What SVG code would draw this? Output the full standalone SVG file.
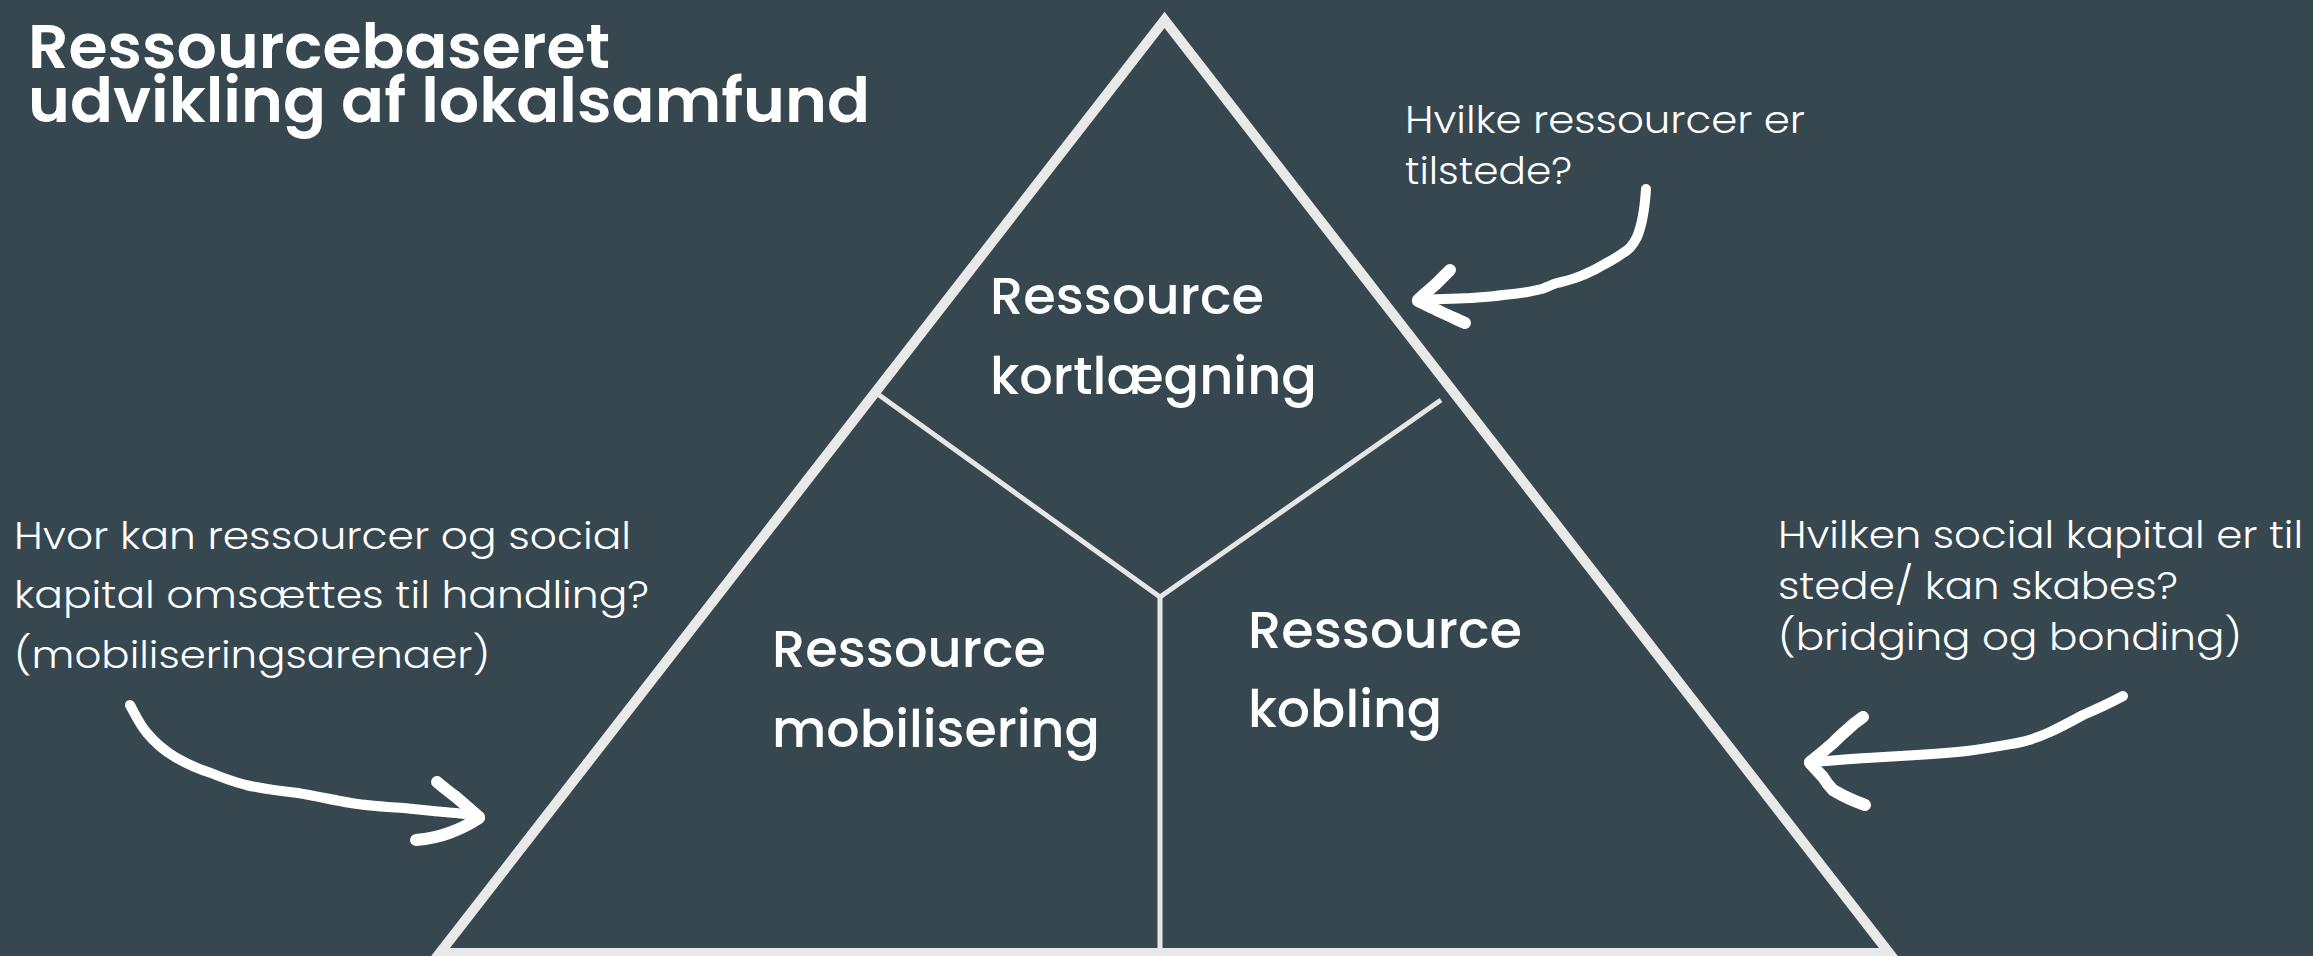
<svg xmlns="http://www.w3.org/2000/svg" width="2313" height="956" viewBox="0 0 2313 956">
  <style>
    .title { font-family: "Poppins", "Inter", "Open Sans", sans-serif; font-weight: 600; font-size: 62px; fill: #ffffff; }
    .label { font-family: "Poppins", "Inter", "Open Sans", sans-serif; font-weight: 500; font-size: 51px; fill: #ffffff; }
    .q { font-family: "Poppins", "Inter", "Open Sans", sans-serif; font-weight: 300; font-size: 38px; fill: #ffffff; }
    .tri { fill: none; stroke: #e9e9e9; stroke-width: 10; stroke-linejoin: miter; }
    .div { fill: none; stroke: #e6e6e6; stroke-width: 5; }
    .arrow { fill: none; stroke: #ffffff; stroke-width: 10; stroke-linecap: round; stroke-linejoin: round; }
    .barb { fill: none; stroke: #ffffff; stroke-width: 12; stroke-linecap: round; stroke-linejoin: round; }
  </style>
  <rect x="0" y="0" width="2313" height="956" fill="#37474f"/>

  <g id="pyramid">
    <polygon class="tri" points="1164.5,20 439.8,953 1889.2,953"/>
    <polyline class="div" points="879,395 1160,597 1441,400"/>
    <line class="div" x1="1160" y1="597" x2="1160" y2="950"/>
  </g>

  <g id="title">
    <text class="title" x="28" y="68" textLength="582" lengthAdjust="spacingAndGlyphs">Ressourcebaseret</text>
    <text class="title" x="28" y="122" textLength="842" lengthAdjust="spacingAndGlyphs">udvikling af lokalsamfund</text>
  </g>

  <g id="node-kortlaegning">
    <text class="label" x="990" y="314" textLength="274" lengthAdjust="spacingAndGlyphs">Ressource</text>
    <text class="label" x="990" y="394" textLength="327" lengthAdjust="spacingAndGlyphs">kortlægning</text>
  </g>

  <g id="node-mobilisering">
    <text class="label" x="772" y="667" textLength="274" lengthAdjust="spacingAndGlyphs">Ressource</text>
    <text class="label" x="772" y="747" textLength="328" lengthAdjust="spacingAndGlyphs">mobilisering</text>
  </g>

  <g id="node-kobling">
    <text class="label" x="1248" y="648" textLength="274" lengthAdjust="spacingAndGlyphs">Ressource</text>
    <text class="label" x="1248" y="727" textLength="194" lengthAdjust="spacingAndGlyphs">kobling</text>
  </g>

  <g id="q-ressourcer">
    <text class="q" x="1405" y="133" textLength="400" lengthAdjust="spacingAndGlyphs">Hvilke ressourcer er</text>
    <text class="q" x="1405" y="184" textLength="167" lengthAdjust="spacingAndGlyphs">tilstede?</text>
  </g>

  <g id="q-handling">
    <text class="q" x="14" y="549" textLength="617" lengthAdjust="spacingAndGlyphs">Hvor kan ressourcer og social</text>
    <text class="q" x="14" y="608" textLength="635" lengthAdjust="spacingAndGlyphs">kapital omsættes til handling?</text>
    <text class="q" x="14" y="668" textLength="476" lengthAdjust="spacingAndGlyphs">(mobiliseringsarenaer)</text>
  </g>

  <g id="q-social-kapital">
    <text class="q" x="1778" y="548" textLength="525" lengthAdjust="spacingAndGlyphs">Hvilken social kapital er til</text>
    <text class="q" x="1778" y="599" textLength="400" lengthAdjust="spacingAndGlyphs">stede/ kan skabes?</text>
    <text class="q" x="1778" y="650" textLength="464" lengthAdjust="spacingAndGlyphs">(bridging og bonding)</text>
  </g>

  <g id="connectors">
    <g id="arrow-top">
      <path class="arrow" d="M1646,189 C1645,205 1642,225 1637,237 C1632,247 1628,250 1623,253 C1615,259 1610,261 1603,265 C1595,270 1590,272 1583,275 C1572,280 1565,281 1557,283 C1550,285 1545,289 1537,290 C1525,293 1515,294 1503,295 C1490,297 1480,297 1470,298 C1450,299 1435,299 1418,300"/>
      <path class="barb" d="M1418,300 C1425,293 1432,288 1437,283 C1442,278 1446,274 1450,270"/>
      <path class="barb" d="M1418,301 C1426,305 1435,309 1443,313 C1450,316 1458,320 1465,323"/>
    </g>
    <g id="arrow-left">
      <path class="arrow" d="M130,705 C136,716 140,725 147,733 C156,744 165,751 175,757 C187,764 198,769 211,773 C223,778 234,782 246,785 C264,789 280,791 298,793 C316,796 333,800 351,803 C369,806 386,807 404,808 C422,810 440,812 456,813 C465,814 472,815 479,817"/>
      <path class="barb" d="M479,817 C472,811 464,804 456,797 C449,792 443,787 437,782"/>
      <path class="barb" d="M479,818 C470,824 460,829 449,833 C438,837 427,839 416,840"/>
    </g>
    <g id="arrow-right">
      <path class="arrow" d="M2123,696 C2110,703 2097,709 2083,715 C2072,721 2061,727 2050,732 C2039,737 2028,741 2017,743 C2000,746 1984,749 1967,751 C1950,753 1934,754 1917,755 C1900,756 1884,757 1867,758 C1848,759 1829,761 1810,762"/>
      <path class="barb" d="M1810,762 C1818,756 1826,749 1833,743 C1838,738 1842,734 1847,730 C1852,725 1857,721 1863,717"/>
      <path class="barb" d="M1810,763 C1815,768 1819,773 1823,777 C1826,782 1829,786 1833,790 C1843,796 1854,801 1865,805"/>
    </g>
  </g>
</svg>
